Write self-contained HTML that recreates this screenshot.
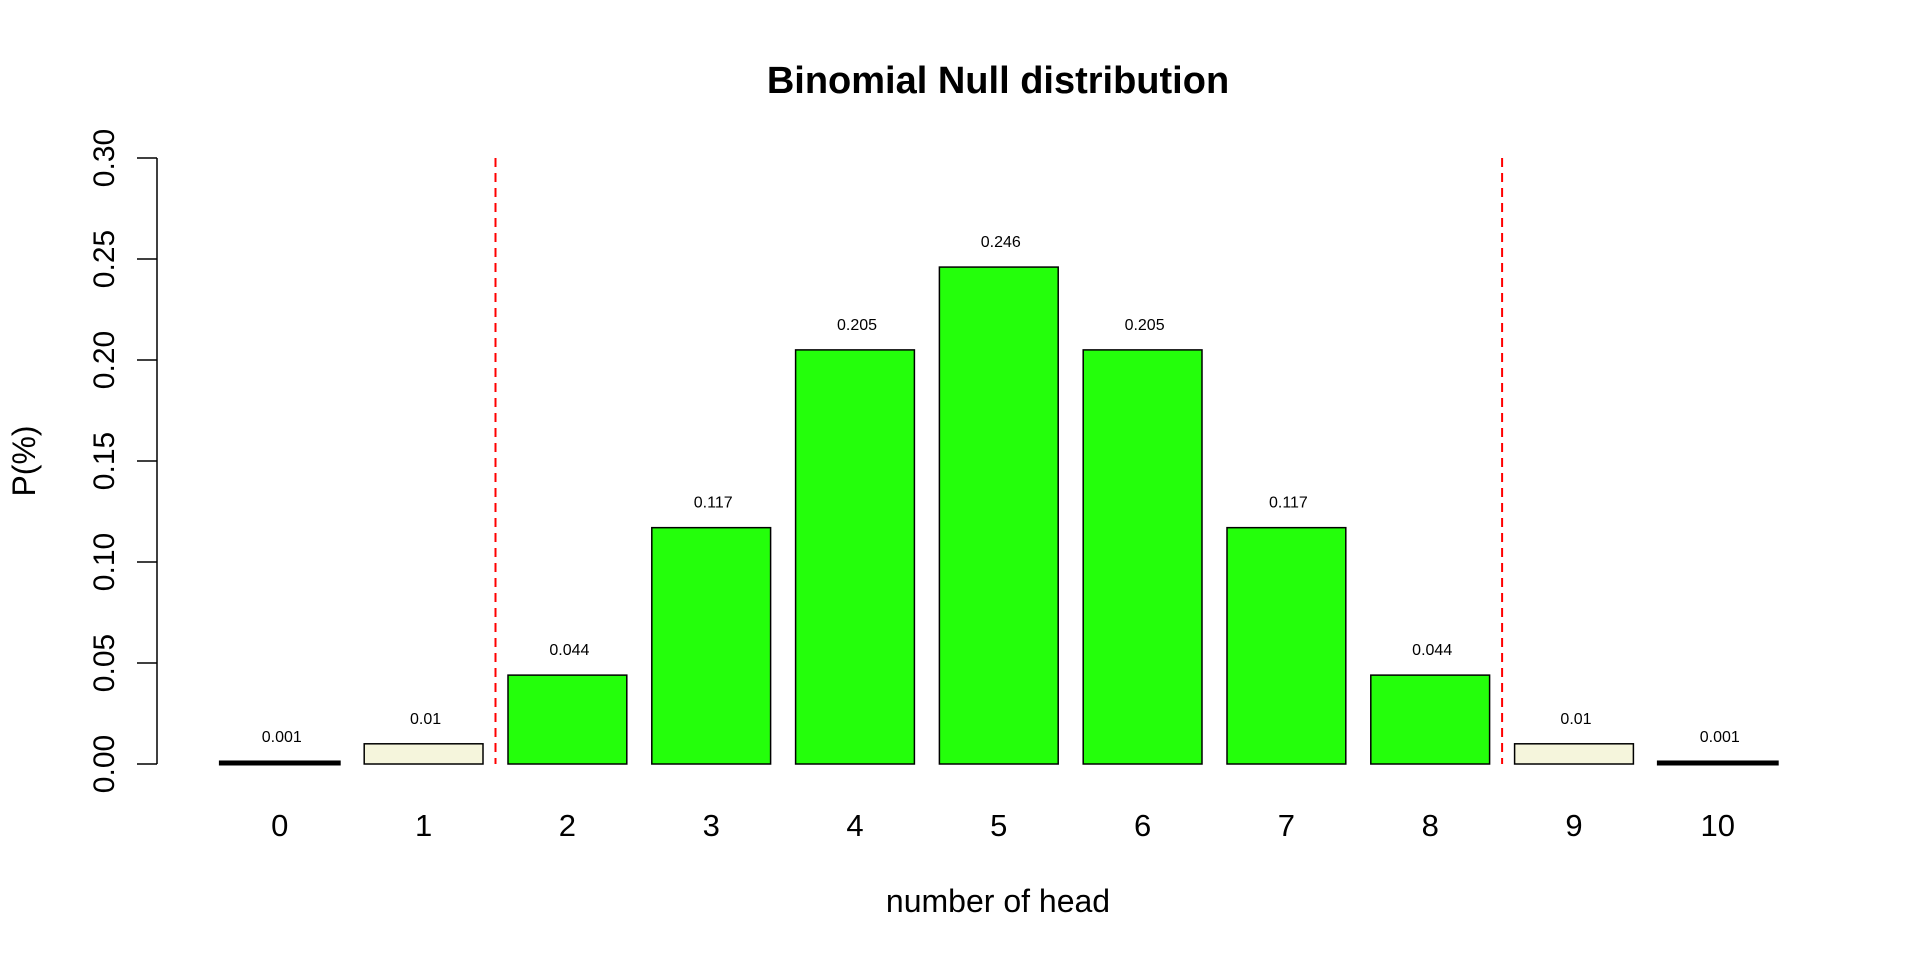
<!DOCTYPE html>
<html><head><meta charset="utf-8"><style>
html,body{margin:0;padding:0;background:#fff;}
svg{display:block;font-family:"Liberation Sans",Arial,sans-serif;}
</style></head><body>
<svg id="chart" width="1920" height="960" viewBox="0 0 1920 960" xmlns="http://www.w3.org/2000/svg">
<text x="998" y="93" text-anchor="middle" font-size="38" font-weight="bold">Binomial Null distribution</text>
<text x="998" y="912" text-anchor="middle" font-size="32">number of head</text>
<text transform="translate(35,461) rotate(-90)" text-anchor="middle" font-size="32">P(%)</text>
<g id="axis"></g>
<g id="bars"></g>
<g id="refs"></g>
</svg>
<script>
const categories = ["0","1","2","3","4","5","6","7","8","9","10"];
const values = [0.001,0.01,0.044,0.117,0.205,0.246,0.205,0.117,0.044,0.01,0.001];
const labels = ["0.001","0.01","0.044","0.117","0.205","0.246","0.205","0.117","0.044","0.01","0.001"];
const fills = ["#f5f5dc","#f5f5dc","#24ff0b","#24ff0b","#24ff0b","#24ff0b","#24ff0b","#24ff0b","#24ff0b","#f5f5dc","#f5f5dc"];
const yTicks = [0,0.05,0.10,0.15,0.20,0.25,0.30];
const yTickLabels = ["0.00","0.05","0.10","0.15","0.20","0.25","0.30"];
const refLines = [1.5, 8.5];

const NS="http://www.w3.org/2000/svg";
const y0=764, y1=158, yMax=0.30;
const yScale=v=>y0-(v/yMax)*(y0-y1);
const barLeft=i=>220.4+143.8*i;
const barW=118.8;
const xCenter=i=>barLeft(i)+barW/2;
const xBetween=p=>barLeft(Math.floor(p))+barW+(143.8-barW)/2;
function mk(tag,attrs,parent){const e=document.createElementNS(NS,tag);for(const k in attrs)e.setAttribute(k,attrs[k]);parent.appendChild(e);return e;}

const axis=document.getElementById('axis');
const al=mk('line',{x1:157,x2:157,y1:yScale(yTicks[0]),y2:yScale(yTicks[yTicks.length-1]),stroke:'#000','stroke-width':1.5},axis);


yTicks.forEach((t,i)=>{
  const y=yScale(t);
  const tk=mk('line',{x1:137,x2:157,y1:y,y2:y,stroke:'#000','stroke-width':1.5},axis);
  
  
  const tx=mk('text',{transform:`translate(114,${y}) rotate(-90)`,'text-anchor':'middle','font-size':30},axis);
  tx.textContent=yTickLabels[i];
  
  
});

const bars=document.getElementById('bars');
values.forEach((v,i)=>{
  const top=yScale(v);
  const thin=(y0-top)<3;
  const r=mk('rect',{x:barLeft(i),y:top,width:barW,height:Math.max(y0-top,0.5),fill:fills[i],stroke:'#000','stroke-width':thin?3:1.5},bars);
  
  
  const vl=mk('text',{x:xCenter(i)+2,y:top-20,'text-anchor':'middle','font-size':16},bars);
  vl.textContent=labels[i];
  
  
  const xl=mk('text',{x:xCenter(i),y:836,'text-anchor':'middle','font-size':31},bars);
  xl.textContent=categories[i];
  
  
});

const refs=document.getElementById('refs');
refLines.forEach(p=>{
  const x=xBetween(p);
  const l=mk('line',{x1:x,x2:x,y1:158,y2:764,stroke:'#ff0000','stroke-width':2,'stroke-dasharray':'9,6'},refs);
  
  
});
</script>
</body></html>
